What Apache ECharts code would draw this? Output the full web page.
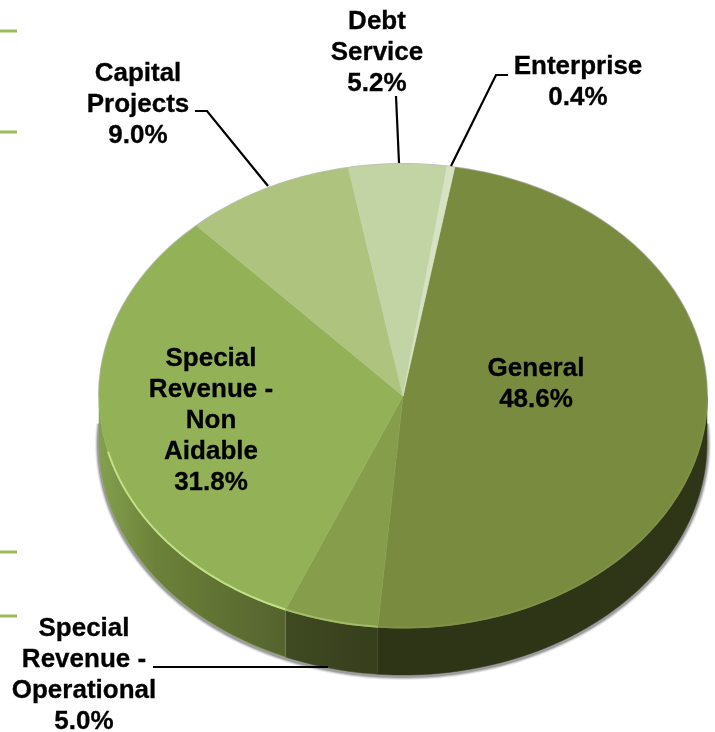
<!DOCTYPE html>
<html>
<head>
<meta charset="utf-8">
<style>html,body{margin:0;padding:0;background:#fff}#chart{width:715px;height:732px}</style>
<script src="https://cdn.jsdelivr.net/npm/echarts@6/dist/echarts.min.js"></script>
</head>
<body>
<div id="chart"></div>
<script>
// Fund shares, clockwise from the top of the disc
const funds = ['General', 'Special Revenue - Operational', 'Special Revenue - Non Aidable', 'Capital Projects', 'Debt Service', 'Enterprise'];
const shares = [48.6, 5.0, 31.8, 9.0, 5.2, 0.4];

// Disc geometry: an ellipse with a thickness below it
const disc = { cx: 403, cy: 396, rx: 304, ry: 232, depth: 47, start: 9.8 };

const faceColors = ['#798b3f', '#869e4c', '#93b258', '#aec47e', '#c3d4a4', '#d6e2c2'];
const rimColors = ['#7f9144', '#a3bc68', '#c2e088', '#aec47e', '#c3d4a4', '#d6e2c2'];
const wallStops = [
  [[0, '#2e3516'], [1, '#2f3617']],
  [[0, '#3f4a22'], [1, '#363e1b']],
  [[0, '#84a04e'], [0.3, '#6c8239'], [1, '#55632e']],
  [[0, '#84a04e'], [1, '#84a04e']],
  [[0, '#84a04e'], [1, '#84a04e']],
  [[0, '#84a04e'], [1, '#84a04e']]
];

// Cumulative clock angles (degrees) for each slice
let running = disc.start;
const sliceRows = shares.map(function (v, i) {
  const from = running;
  running += v * 3.6;
  return [v, from, running, i];
});

function rimPoint(deg, dy) {
  const a = deg * Math.PI / 180;
  return [disc.cx + disc.rx * Math.sin(a), disc.cy - disc.ry * Math.cos(a) + (dy || 0)];
}

function arcPoints(a, b, dy) {
  const n = Math.max(2, Math.ceil(Math.abs(b - a) / 1.5));
  const pts = [];
  for (let k = 0; k <= n; k++) pts.push(rimPoint(a + (b - a) * k / n, dy));
  return pts;
}

// Front part of the thickness for one slice: only clock angles 90..270 face the viewer
function renderWall(params, api) {
  const from = Math.max(api.value(1), 90);
  const to = Math.min(api.value(2), 270);
  if (to <= from) return { type: 'group', children: [] };
  const i = api.value(3);
  const pts = arcPoints(from, to, 0).concat(arcPoints(to, from, disc.depth));
  const xs = pts.map(function (p) { return p[0]; });
  const x0 = Math.min.apply(null, xs), x1 = Math.max.apply(null, xs);
  const stops = wallStops[i].map(function (s) { return { offset: s[0], color: s[1] }; });
  return {
    type: 'polygon',
    shape: { points: pts },
    style: {
      fill: new echarts.graphic.LinearGradient(x0, 0, x1, 0, stops, true),
      stroke: stops[0].color,
      lineWidth: 0.5
    }
  };
}

function renderFace(params, api) {
  const i = api.value(3);
  const from = api.value(1), to = api.value(2);
  const children = [{
    type: 'sector',
    x: disc.cx,
    y: disc.cy,
    scaleY: disc.ry / disc.rx,
    shape: {
      cx: 0, cy: 0, r0: 0, r: disc.rx,
      startAngle: (from - 90) * Math.PI / 180,
      endAngle: (to - 90) * Math.PI / 180,
      clockwise: true
    },
    style: { fill: faceColors[i], stroke: faceColors[i], lineWidth: 0.6 }
  }];
  // The bright rim fades out before the disc's left extreme
  const rimFrom = Math.max(from, 90), rimTo = Math.min(to, 256);
  if (rimTo > rimFrom) {
    children.push({
      type: 'polyline',
      shape: { points: arcPoints(rimFrom, rimTo, -0.5) },
      style: { fill: null, stroke: rimColors[i], lineWidth: 2 }
    });
  }
  return { type: 'group', children: children };
}

// Soft shadow: layered translucent strokes around the disc's outline
function renderOutline() {
  const lower = arcPoints(85, 275, disc.depth + 1);
  const upper = arcPoints(-90, 90, 0);
  const halo = function (pts, width, alpha) {
    return { type: 'polyline', shape: { points: pts }, style: { fill: null, stroke: 'rgba(0,0,0,' + alpha + ')', lineWidth: width } };
  };
  return {
    type: 'group',
    children: [
      halo(lower, 8, 0.08),
      halo(lower, 6, 0.14),
      halo(lower, 4, 0.22),
      halo(upper, 2, 0.25)
    ]
  };
}

function labelText(i, lines) {
  return lines.concat([shares[i].toFixed(1) + '%']).join('\n');
}

// Label placement: centre x and first-line y, with the wrapped lines per label
const labelBlocks = [
  { i: 0, x: 536, y: 368, lines: ['General'] },
  { i: 1, x: 84, y: 628, lines: ['Special', 'Revenue -', 'Operational'] },
  { i: 2, x: 211, y: 358, lines: ['Special', 'Revenue -', 'Non', 'Aidable'] },
  { i: 3, x: 138, y: 73, lines: ['Capital', 'Projects'] },
  { i: 4, x: 377, y: 21, lines: ['Debt', 'Service'] },
  { i: 5, x: 578, y: 66, lines: ['Enterprise'] }
];

const leaderPaths = [
  [[153, 667], [328, 667]],
  [[195, 111], [207, 111], [268, 186]],
  [[396, 96], [399, 163]],
  [[508, 75], [496, 75], [451, 166]]
];

const cornerTicks = [31, 132, 552, 616];

const graphics = [];
cornerTicks.forEach(function (y) {
  graphics.push({
    type: 'rect', z: 5,
    shape: { x: 0, y: y - 1.5, width: 17, height: 3 },
    style: { fill: '#9bbb59' }
  });
});
leaderPaths.forEach(function (p) {
  graphics.push({
    type: 'polyline', z: 20,
    shape: { points: p },
    style: { fill: null, stroke: '#000', lineWidth: 2.2 }
  });
});
labelBlocks.forEach(function (b) {
  graphics.push({
    type: 'text', z: 30,
    x: b.x, y: b.y - 15,
    style: {
      text: labelText(b.i, b.lines),
      fill: '#000',
      stroke: '#000',
      lineWidth: 0.3,
      font: 'bold 26px "Liberation Sans", Arial, sans-serif',
      lineHeight: 31,
      align: 'center',
      verticalAlign: 'top'
    }
  });
});

const chart = echarts.init(document.getElementById('chart'), null, { renderer: 'canvas' });
chart.setOption({
  animation: false,
  backgroundColor: '#fff',
  graphic: graphics,
  series: [
    { type: 'custom', coordinateSystem: 'none', z: 1, silent: true, data: [[1]], renderItem: renderOutline },
    { type: 'custom', coordinateSystem: 'none', z: 2, silent: true, data: sliceRows, renderItem: renderWall },
    { type: 'custom', coordinateSystem: 'none', z: 3, silent: true, data: sliceRows, renderItem: renderFace }
  ]
});
</script>
</body>
</html>
